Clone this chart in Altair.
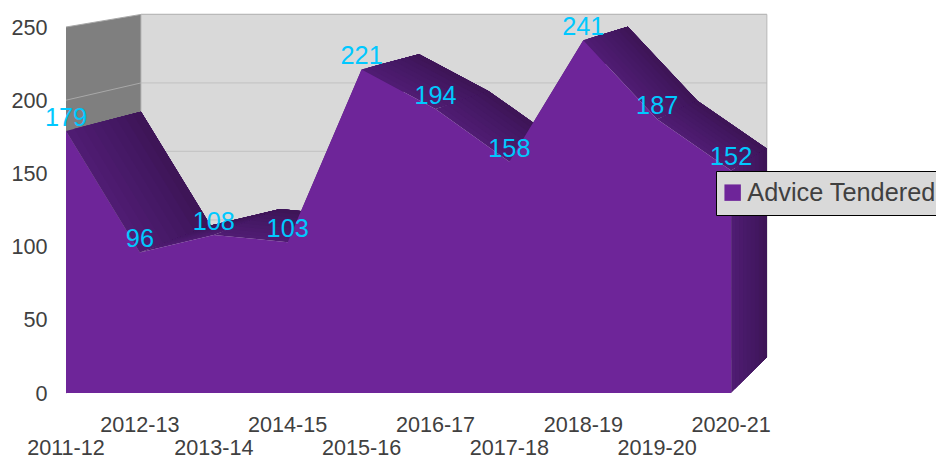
import altair as alt
import pandas as pd

categories = ["2011-12", "2012-13", "2013-14", "2014-15", "2015-16",
              "2016-17", "2017-18", "2018-19", "2019-20", "2020-21"]
values = [179, 96, 108, 103, 221, 194, 158, 241, 187, 152]
axis_values = [0, 50, 100, 150, 200, 250]
series_name = "Advice Tendered"

PURPLE = "#6e2599"
TEXT = "#404040"
CYAN = "#00c8ff"
FONT = "Liberation Sans"
# depth shading of the top surface, front edge to back edge
depth_shades = ["#4f1c72", "#4d1b6f", "#4b1a6c", "#481a69", "#461966",
                "#441863", "#421760", "#40165b", "#3e1557"]

n = len(categories)
top = axis_values[-1]


def px(i, z=0):
    # category index on the depth plane z (0 front, 1 back)
    return i + z * (1.015 - 0.059 * i)


def py(v, z=0):
    return v + z * (24.6 - 0.064 * v)


def poly(corners):
    return pd.DataFrame([{"x": px(i, z), "y": py(v, z), "o": k}
                         for k, (i, v, z) in enumerate(corners)])


x_scale = alt.Scale(domain=[(8 - 66) / 73.9, (936 - 66) / 73.9], nice=False, zero=False)
y_scale = alt.Scale(domain=[(393 - 458) / 1.464, (393 - 8) / 1.464], nice=False, zero=False)
y_axis = alt.Axis(title=None, values=axis_values, domain=False, ticks=False, grid=False,
                  labelFont=FONT, labelFontSize=21.6, labelColor=TEXT,
                  labelPadding=-39, labelAlign="right", labelBaseline="middle",
                  labelOffset=1, format="d")
X = alt.X("x:Q", scale=x_scale, axis=None)
Y = alt.Y("y:Q", scale=y_scale, axis=y_axis)
ORDER = alt.Order("o:Q")


def fill_poly(corners, fill):
    return alt.Chart(poly(corners)).mark_line(fill=fill, strokeWidth=0, strokeOpacity=0).encode(
        x=X, y=Y, order=ORDER)


def shaded(i0, v0, i1, v1):
    # one slanted face, painted in steps from the front edge to the back edge
    out = []
    steps = len(depth_shades)
    for k, shade in enumerate(depth_shades):
        z = k / steps
        out.append(fill_poly([(i0, v0, z), (i1, v1, z), (i1, v1, 1), (i0, v0, 1)], shade))
    return out


layers = []
# back wall and left wall
layers.append(fill_poly([(0, 0, 1), (n - 1, 0, 1), (n - 1, top, 1), (0, top, 1)], "#d9d9d9"))
layers.append(fill_poly([(0, 0, 0), (0, 0, 1), (0, top, 1), (0, top, 0)], "#7f7f7f"))

# gridlines
for v in axis_values:
    back = poly([(0, v, 1), (n - 1, v, 1)])
    side = poly([(0, v, 0), (0, v, 1)])
    layers.append(alt.Chart(back).mark_line(color="#c6c6c6", strokeWidth=1.2).encode(x=X, y=Y, order=ORDER))
    layers.append(alt.Chart(side).mark_line(color="#a8a8a8", strokeWidth=1).encode(x=X, y=Y, order=ORDER))

# outline along the wall edge
layers.append(alt.Chart(poly([(0, 0, 1), (0, top, 1), (n - 1, top, 1), (n - 1, 0, 1)]))
              .mark_line(color="#b8b8b8", strokeWidth=1).encode(x=X, y=Y, order=ORDER))

# top surface segments
for i in range(n - 1):
    layers += shaded(i, values[i], i + 1, values[i + 1])

# right side
layers += shaded(n - 1, 0, n - 1, values[-1])

# front face
front = pd.DataFrame({"x": list(range(n)), "y": values, "base": [0] * n,
                      "series": [series_name] * n, "category": categories})
layers.append(alt.Chart(front).mark_area(opacity=1, line=False).encode(
    x=X, y=Y, y2="base:Q",
    color=alt.Color("series:N",
                    scale=alt.Scale(domain=[series_name], range=[PURPLE]),
                    legend=alt.Legend(title=None, orient="none", legendX=708, legendY=163,
                                      fillColor="#d9d9d9", strokeColor="#000000",
                                      padding=9, symbolType="square", symbolSize=270,
                                      symbolOffset=-5, symbolStrokeWidth=0, symbolOpacity=1,
                                      labelFont=FONT, labelFontSize=25.3, labelColor=TEXT,
                                      labelOffset=2, labelLimit=400, cornerRadius=0))))

# data labels
layers.append(alt.Chart(front).mark_text(font=FONT, fontSize=25.3, color=CYAN,
                                         align="center", baseline="alphabetic", dy=-5)
              .encode(x=X, y=Y, text="y:Q"))

# staggered category labels
for rem, base in ((1, 426), (0, 449)):
    sub = front[front["x"] % 2 == rem]
    layers.append(alt.Chart(sub).mark_text(font=FONT, fontSize=21.6, color=TEXT,
                                           align="center", baseline="middle")
                  .encode(x=X, y=alt.value(base - 8), text="category:N"))

chart = alt.layer(*layers).resolve_scale(color="independent").properties(
    width=928, height=450, padding=0,
    autosize=alt.AutoSizeParams(type="none"),
    background="#ffffff",
).configure_view(stroke=None)

chart.save("out.html", embed_options={"renderer": "svg", "actions": False})
